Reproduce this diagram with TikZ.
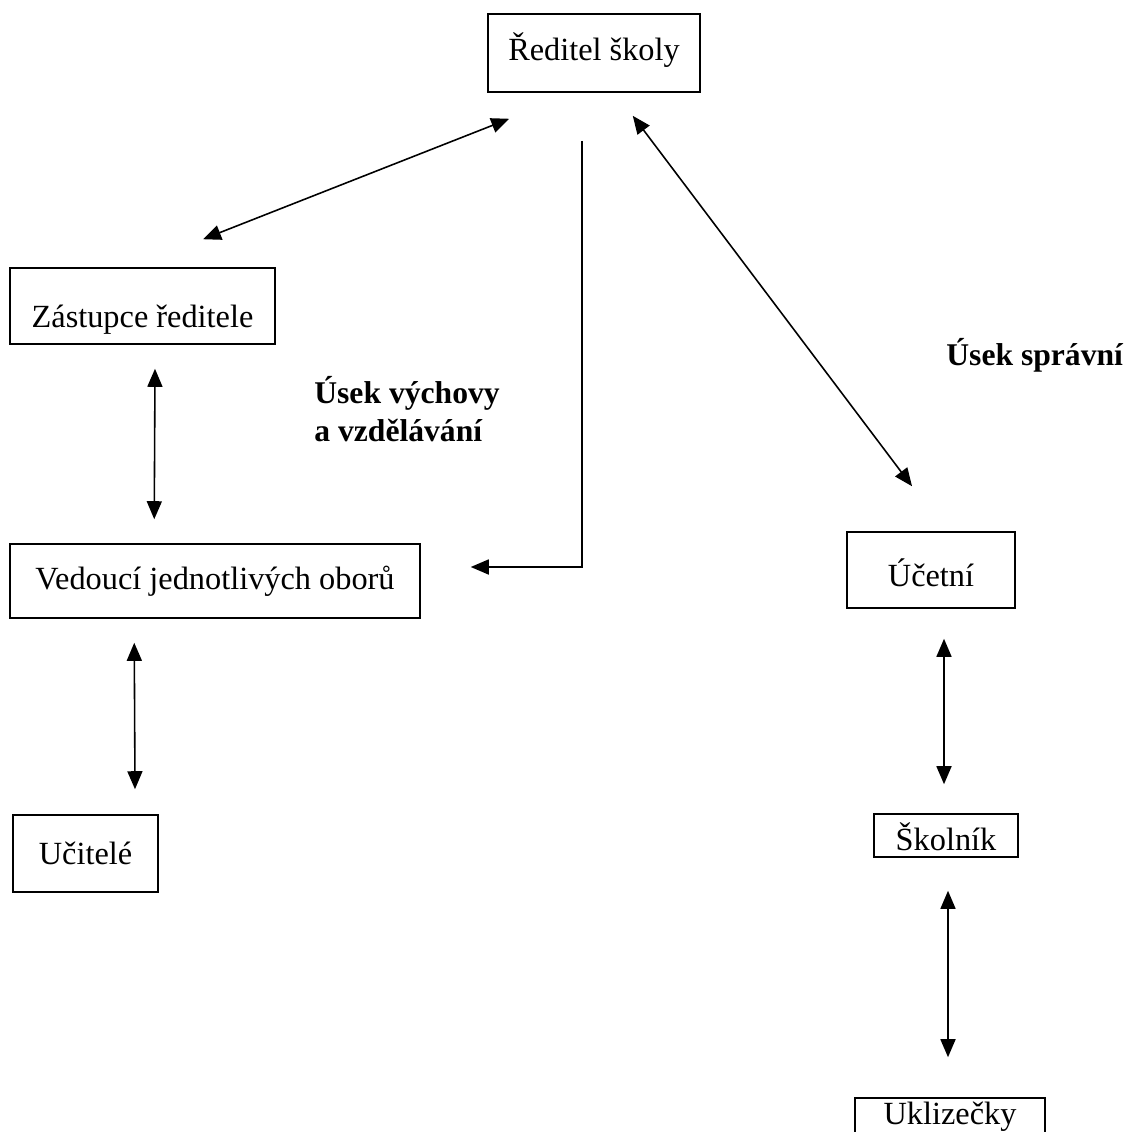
\documentclass[tikz,border=0pt]{standalone}
\usepackage{fontspec}
\setmainfont{Liberation Serif}
\usetikzlibrary{arrows.meta}
\tikzstyle{box}=[rectangle,draw=black,line width=0.9pt,inner sep=0pt,font=\fontsize{18.4}{22}\selectfont]
\tikzstyle{usek}=[font=\fontsize{18}{21.5}\selectfont\bfseries,align=left,inner sep=0pt]
\tikzstyle{link}=[line width=0.9pt,{Triangle[length=3.6mm,width=3mm]}-{Triangle[length=3.6mm,width=3mm]}]

\begin{document}
\begin{tikzpicture}[x=0.02cm,y=-0.02cm]
\useasboundingbox (0,0) rectangle (1127,1132);
\node (dir) at (594,53) [box,minimum width=4.24cm,minimum height=1.56cm,text height=12pt,text depth=4pt] {Ředitel školy};
\node (zast) at (142.5,306) [box,minimum width=5.3cm,minimum height=1.52cm,text height=29pt,text depth=4pt] {Zástupce ředitele};
\node (ved) at (215,581) [box,minimum width=8.2cm,minimum height=1.48cm] {Vedoucí jednotlivých oborů};
\node (uc) at (85.5,853.5) [box,minimum width=2.9cm,minimum height=1.54cm] {Učitelé};
\node (ucet) at (931,570) [box,minimum width=3.36cm,minimum height=1.52cm,text height=23pt,text depth=4pt] {Účetní};
\node (skol) at (946,835.5) [box,minimum width=2.88cm,minimum height=0.86cm,text height=17pt,text depth=-4pt] {Školník};
\node (ukl) at (950,1120) [box,minimum width=3.8cm,minimum height=0.88cm,text height=9pt,text depth=4pt] {Uklizečky};

\node (vychova) at (314,376) [usek,anchor=north west] {Úsek výchovy\\a vzdělávání};
\node (sprava) at (946,355) [usek,anchor=west] {Úsek správní};

\draw[link] ([shift={(22,26)}]dir.south west) -- ([shift={(60.5,-28)}]zast.north);
\draw[line width=0.9pt,-{Triangle[length=3.6mm,width=3mm]}] ([shift={(-12,48)}]dir.south) |- ([shift={(50,-14)}]ved.east);
\draw[link] ([shift={(-68,23)}]dir.south east) -- ([shift={(-19,-45)}]ucet.north);

\draw[link] ([shift={(12.5,24)}]zast.south) -- ([shift={(145,-24)}]ved.north west);
\draw[link] ([shift={(125,24)}]ved.south west) -- ([shift={(49.5,-25)}]uc.north);
\draw[link] ([shift={(13,30)}]ucet.south) -- ([shift={(-2,-29)}]skol.north);
\draw[link] ([shift={(2,33)}]skol.south) -- ([shift={(-2,-40)}]ukl.north);
\end{tikzpicture}
\end{document}
